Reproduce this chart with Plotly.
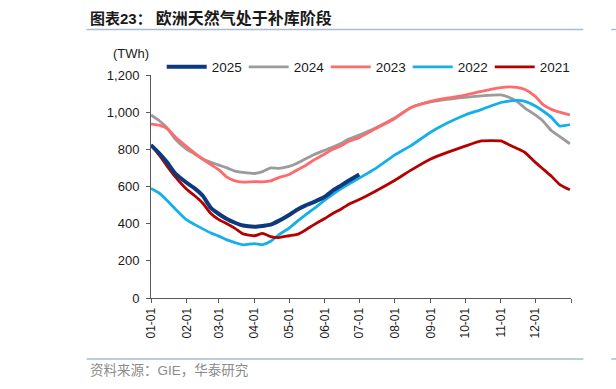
import plotly.graph_objects as go

# ---- data ----
dates = ["01-01","01-08","01-15","01-22","02-01","02-08","02-15","02-22","03-01","03-08",
         "03-15","03-22","04-01","04-08","04-15","04-22","05-01","05-08","05-15","05-22",
         "06-01","06-08","06-15","06-22","07-01","07-15","08-01","08-15","09-01","09-15",
         "10-01","10-15","11-01","11-08","11-15","11-22","12-01","12-08","12-15","12-22","12-31"]

v2025 = [823,780,730,671,620,590,550,485,452,425,405,390,384,388,395,415,447,475,497,515,
         545,578,605,632,665]
v2024 = [985,955,915,855,800,775,746,730,715,700,683,676,670,680,700,698,708,725,748,770,
         795,812,832,855,877,915,970,1025,1055,1069,1080,1088,1093,1080,1058,1022,985,950,900,870,830]
v2023 = [936,930,912,868,815,780,748,718,690,650,630,624,626,625,630,648,665,689,712,740,
         775,800,818,843,863,910,966,1025,1058,1075,1092,1112,1132,1136,1133,1122,1085,1039,1015,1000,985]
v2022 = [590,565,525,480,420,395,372,350,333,313,298,286,293,287,305,340,376,412,446,478,
         527,558,587,613,645,696,770,820,892,940,985,1014,1052,1060,1063,1058,1033,1005,972,926,933]
v2021 = [823,770,710,653,585,550,510,455,422,400,375,345,335,348,330,325,335,342,365,392,
         428,455,478,505,530,575,634,688,748,782,817,845,845,825,805,783,730,693,655,612,582]

month_ticks = ["01-01","02-01","03-01","04-01","05-01","06-01","07-01","08-01",
               "09-01","10-01","11-01","12-01"]

title_prefix = "图表23："
title_text = "欧洲天然气处于补库阶段"
unit_label = "(TWh)"
source_text = "资料来源：GIE，华泰研究"

# ---- geometry helpers (pixel -> paper) ----
W, H = 616, 389
L, R, T, B = 151.3, 570.7, 75.0, 298.0
def px(x):
    return (x - L) / (R - L)
def py(y):
    return (B - y) / (B - T)

FONT = "Liberation Sans, Arial, Noto Sans CJK SC, sans-serif"

def xs(n):
    return ["2021-" + d for d in dates[:n]]

series = [
    ("2024", v2024, "#9B9B9B", 2.8, 2),
    ("2023", v2023, "#FF6B6B", 2.8, 3),
    ("2022", v2022, "#14AFEB", 2.8, 4),
    ("2021", v2021, "#B50000", 2.8, 5),
    ("2025", v2025, "#0D3A7C", 4.0, 1),
]

fig = go.Figure()
for name, vals, color, width, rank in series:
    fig.add_trace(go.Scatter(
        x=xs(len(vals)), y=vals, name=name, mode="lines",
        line=dict(color=color, width=width, shape="spline", smoothing=0.5),
        legendrank=rank,
    ))

tickvals = ["2021-" + m for m in month_ticks] + ["2022-01-01"]
ticktext = month_ticks + [""]

fig.update_layout(
    width=W, height=H,
    margin=dict(l=L, r=W - R, t=T, b=H - B, pad=0),
    paper_bgcolor="white", plot_bgcolor="white",
    font=dict(family=FONT, size=13, color="#1a1a1a"),
    showlegend=True,
    legend=dict(orientation="h", x=px(162), y=py(67), xanchor="left", yanchor="middle",
                font=dict(size=13.5, color="#1a1a1a"), bgcolor="rgba(0,0,0,0)",
                entrywidth=27, entrywidthmode="pixels", borderwidth=0,
                tracegroupgap=0, itemwidth=40),
    xaxis=dict(type="date", range=["2021-01-01", "2022-01-01"],
               tickvals=tickvals, ticktext=ticktext, tickangle=-90,
               ticks="outside", ticklen=4, tickcolor="#595959",
               showline=True, linecolor="#595959", linewidth=1,
               showgrid=False, zeroline=False,
               tickfont=dict(size=12, color="#1a1a1a")),
    yaxis=dict(range=[0, 1200], dtick=200, tickformat=",",
               ticks="outside", ticklen=4, tickcolor="#595959",
               showline=True, linecolor="#595959", linewidth=1,
               showgrid=False, zeroline=False, ticklabelstandoff=4,
               tickfont=dict(size=13, color="#1a1a1a")),
)

ann = [
    dict(x=px(88), y=py(18), xref="paper", yref="paper", xanchor="left", yanchor="middle",
         text="<b>" + title_prefix + "</b> <b><span style='font-size:16px'>" + title_text + "</span></b>",
         showarrow=False,
         font=dict(family="Liberation Sans, Noto Sans CJK SC", size=15, color="#1a1a1a")),
    dict(x=px(131), y=py(54), xref="paper", yref="paper", xanchor="center", yanchor="middle",
         text=unit_label, showarrow=False, font=dict(size=13, color="#1a1a1a")),
    dict(x=px(88), y=py(370), xref="paper", yref="paper", xanchor="left", yanchor="middle",
         text=source_text, showarrow=False,
         font=dict(family="Liberation Sans, Noto Sans CJK SC", size=13.5, color="#8C8C8C")),
]
fig.update_layout(annotations=ann)

rule = dict(color="#A9BCD0", width=1.5)
fig.update_layout(shapes=[
    dict(type="line", xref="paper", yref="paper", x0=px(87), x1=px(583), y0=py(29.5), y1=py(29.5), line=rule),
    dict(type="line", xref="paper", yref="paper", x0=px(611), x1=px(620), y0=py(29.5), y1=py(29.5), line=rule),
    dict(type="line", xref="paper", yref="paper", x0=px(87), x1=px(583), y0=py(359), y1=py(359), line=rule),
    dict(type="line", xref="paper", yref="paper", x0=px(611), x1=px(620), y0=py(359), y1=py(359), line=rule),
])

fig.write_html("out.html", config={"displayModeBar": False},
               post_script="document.body.style.margin='0px';document.body.style.overflow='hidden';")
